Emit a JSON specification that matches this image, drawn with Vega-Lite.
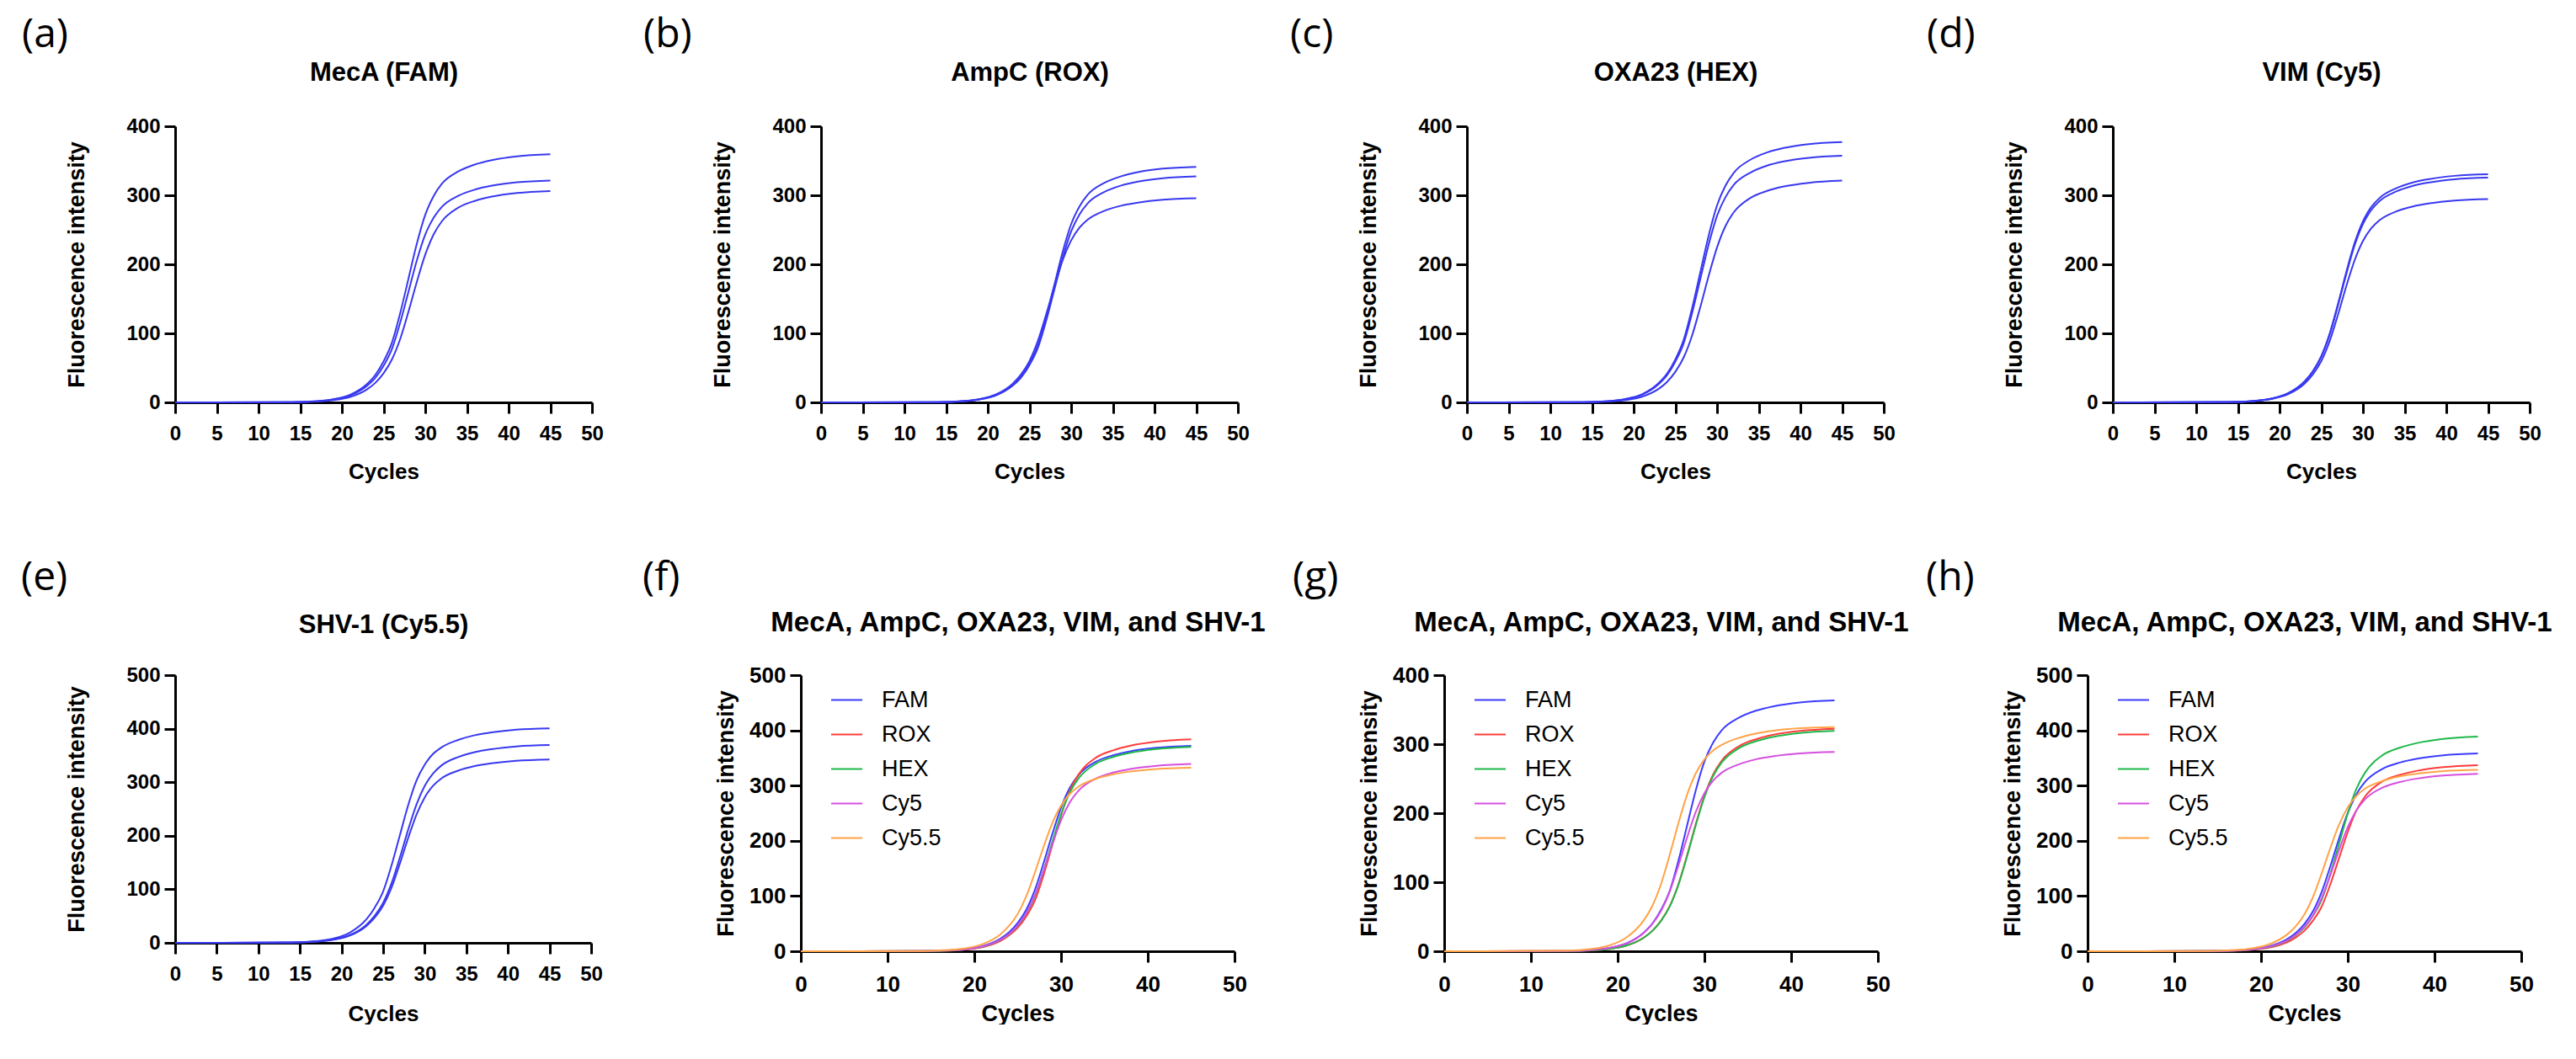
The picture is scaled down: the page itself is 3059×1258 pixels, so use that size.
{
"$schema": "https://vega.github.io/schema/vega-lite/v6.json",
"background": "white",
"padding": {"left": 25, "top": 18, "right": 0, "bottom": 0},
"datasets": {"pcr": [
{"p":"a","s":"1","c":0,"v":0},{"p":"a","s":"1","c":14,"v":0.4},{"p":"a","s":"1","c":17,"v":1.8},{"p":"a","s":"1","c":19,"v":4.7},{"p":"a","s":"1","c":21,"v":11.2},{"p":"a","s":"1","c":23,"v":26.6},{"p":"a","s":"1","c":24,"v":39.6},{"p":"a","s":"1","c":25,"v":59.4},{"p":"a","s":"1","c":26,"v":86.4},{"p":"a","s":"1","c":27,"v":129.6},{"p":"a","s":"1","c":28,"v":180},{"p":"a","s":"1","c":29,"v":230.4},{"p":"a","s":"1","c":30,"v":271.8},{"p":"a","s":"1","c":31,"v":298.8},{"p":"a","s":"1","c":32,"v":316.8},{"p":"a","s":"1","c":34,"v":334.8},{"p":"a","s":"1","c":36,"v":344.9},{"p":"a","s":"1","c":38,"v":351},{"p":"a","s":"1","c":41,"v":356.4},{"p":"a","s":"1","c":45,"v":359.3},
{"p":"a","s":"2","c":0,"v":0},{"p":"a","s":"2","c":14,"v":0.3},{"p":"a","s":"2","c":17,"v":1.6},{"p":"a","s":"2","c":19,"v":4.2},{"p":"a","s":"2","c":21,"v":10},{"p":"a","s":"2","c":23,"v":23.8},{"p":"a","s":"2","c":24,"v":35.4},{"p":"a","s":"2","c":25,"v":53.1},{"p":"a","s":"2","c":26,"v":77.3},{"p":"a","s":"2","c":27,"v":115.9},{"p":"a","s":"2","c":28,"v":161},{"p":"a","s":"2","c":29,"v":206.1},{"p":"a","s":"2","c":30,"v":243.1},{"p":"a","s":"2","c":31,"v":267.3},{"p":"a","s":"2","c":32,"v":283.4},{"p":"a","s":"2","c":34,"v":299.5},{"p":"a","s":"2","c":36,"v":308.5},{"p":"a","s":"2","c":38,"v":314},{"p":"a","s":"2","c":41,"v":318.8},{"p":"a","s":"2","c":45,"v":321.4},
{"p":"a","s":"3","c":0,"v":0},{"p":"a","s":"3","c":14,"v":0.2},{"p":"a","s":"3","c":17,"v":1.2},{"p":"a","s":"3","c":19,"v":3.2},{"p":"a","s":"3","c":21,"v":7.8},{"p":"a","s":"3","c":23,"v":18.7},{"p":"a","s":"3","c":24,"v":28.2},{"p":"a","s":"3","c":25,"v":42.2},{"p":"a","s":"3","c":26,"v":62.2},{"p":"a","s":"3","c":27,"v":92.1},{"p":"a","s":"3","c":28,"v":132},{"p":"a","s":"3","c":29,"v":175},{"p":"a","s":"3","c":30,"v":214.1},{"p":"a","s":"3","c":31,"v":243.3},{"p":"a","s":"3","c":32,"v":262.5},{"p":"a","s":"3","c":34,"v":282.4},{"p":"a","s":"3","c":36,"v":292.1},{"p":"a","s":"3","c":38,"v":298.1},{"p":"a","s":"3","c":41,"v":303.3},{"p":"a","s":"3","c":45,"v":306.2},
{"p":"b","s":"1","c":0,"v":0},{"p":"b","s":"1","c":14,"v":0.3},{"p":"b","s":"1","c":17,"v":1.7},{"p":"b","s":"1","c":19,"v":4.4},{"p":"b","s":"1","c":21,"v":10.6},{"p":"b","s":"1","c":23,"v":25.3},{"p":"b","s":"1","c":24,"v":37.6},{"p":"b","s":"1","c":25,"v":56.4},{"p":"b","s":"1","c":26,"v":82.1},{"p":"b","s":"1","c":27,"v":123.1},{"p":"b","s":"1","c":28,"v":171},{"p":"b","s":"1","c":29,"v":218.9},{"p":"b","s":"1","c":30,"v":258.2},{"p":"b","s":"1","c":31,"v":283.9},{"p":"b","s":"1","c":32,"v":301},{"p":"b","s":"1","c":34,"v":318.1},{"p":"b","s":"1","c":36,"v":327.6},{"p":"b","s":"1","c":38,"v":333.5},{"p":"b","s":"1","c":41,"v":338.6},{"p":"b","s":"1","c":45,"v":341.3},
{"p":"b","s":"2","c":0,"v":0},{"p":"b","s":"2","c":14,"v":0.3},{"p":"b","s":"2","c":17,"v":1.6},{"p":"b","s":"2","c":19,"v":4.3},{"p":"b","s":"2","c":21,"v":10.2},{"p":"b","s":"2","c":23,"v":24.3},{"p":"b","s":"2","c":24,"v":36.1},{"p":"b","s":"2","c":25,"v":54.1},{"p":"b","s":"2","c":26,"v":78.7},{"p":"b","s":"2","c":27,"v":118.1},{"p":"b","s":"2","c":28,"v":164},{"p":"b","s":"2","c":29,"v":209.9},{"p":"b","s":"2","c":30,"v":247.6},{"p":"b","s":"2","c":31,"v":272.2},{"p":"b","s":"2","c":32,"v":288.6},{"p":"b","s":"2","c":34,"v":305},{"p":"b","s":"2","c":36,"v":314.2},{"p":"b","s":"2","c":38,"v":319.8},{"p":"b","s":"2","c":41,"v":324.7},{"p":"b","s":"2","c":45,"v":327.3},
{"p":"b","s":"3","c":0,"v":0},{"p":"b","s":"3","c":14,"v":0.4},{"p":"b","s":"3","c":17,"v":1.9},{"p":"b","s":"3","c":19,"v":4.9},{"p":"b","s":"3","c":21,"v":11.7},{"p":"b","s":"3","c":23,"v":27.2},{"p":"b","s":"3","c":24,"v":40.7},{"p":"b","s":"3","c":25,"v":59.9},{"p":"b","s":"3","c":26,"v":88.8},{"p":"b","s":"3","c":27,"v":127.3},{"p":"b","s":"3","c":28,"v":168.7},{"p":"b","s":"3","c":29,"v":206.5},{"p":"b","s":"3","c":30,"v":234.6},{"p":"b","s":"3","c":31,"v":253.1},{"p":"b","s":"3","c":32,"v":264.9},{"p":"b","s":"3","c":34,"v":277.5},{"p":"b","s":"3","c":36,"v":284.9},{"p":"b","s":"3","c":38,"v":289.3},{"p":"b","s":"3","c":41,"v":293.5},{"p":"b","s":"3","c":45,"v":295.6},
{"p":"c","s":"1","c":0,"v":0},{"p":"c","s":"1","c":14,"v":0.4},{"p":"c","s":"1","c":17,"v":1.9},{"p":"c","s":"1","c":19,"v":4.9},{"p":"c","s":"1","c":21,"v":11.7},{"p":"c","s":"1","c":23,"v":28},{"p":"c","s":"1","c":24,"v":41.6},{"p":"c","s":"1","c":25,"v":62.4},{"p":"c","s":"1","c":26,"v":90.7},{"p":"c","s":"1","c":27,"v":136.1},{"p":"c","s":"1","c":28,"v":189},{"p":"c","s":"1","c":29,"v":241.9},{"p":"c","s":"1","c":30,"v":285.4},{"p":"c","s":"1","c":31,"v":313.7},{"p":"c","s":"1","c":32,"v":332.6},{"p":"c","s":"1","c":34,"v":351.5},{"p":"c","s":"1","c":36,"v":362.1},{"p":"c","s":"1","c":38,"v":368.6},{"p":"c","s":"1","c":41,"v":374.2},{"p":"c","s":"1","c":45,"v":377.2},
{"p":"c","s":"2","c":0,"v":0},{"p":"c","s":"2","c":14,"v":0.4},{"p":"c","s":"2","c":17,"v":1.8},{"p":"c","s":"2","c":19,"v":4.7},{"p":"c","s":"2","c":21,"v":11.1},{"p":"c","s":"2","c":23,"v":26.5},{"p":"c","s":"2","c":24,"v":39.4},{"p":"c","s":"2","c":25,"v":59.1},{"p":"c","s":"2","c":26,"v":85.9},{"p":"c","s":"2","c":27,"v":128.9},{"p":"c","s":"2","c":28,"v":179},{"p":"c","s":"2","c":29,"v":229.1},{"p":"c","s":"2","c":30,"v":270.3},{"p":"c","s":"2","c":31,"v":297.1},{"p":"c","s":"2","c":32,"v":315},{"p":"c","s":"2","c":34,"v":332.9},{"p":"c","s":"2","c":36,"v":343},{"p":"c","s":"2","c":38,"v":349.1},{"p":"c","s":"2","c":41,"v":354.4},{"p":"c","s":"2","c":45,"v":357.3},
{"p":"c","s":"3","c":0,"v":0},{"p":"c","s":"3","c":14,"v":0.3},{"p":"c","s":"3","c":17,"v":1.3},{"p":"c","s":"3","c":19,"v":3.4},{"p":"c","s":"3","c":21,"v":8.2},{"p":"c","s":"3","c":23,"v":19.6},{"p":"c","s":"3","c":24,"v":29.6},{"p":"c","s":"3","c":25,"v":44.3},{"p":"c","s":"3","c":26,"v":65.2},{"p":"c","s":"3","c":27,"v":96.6},{"p":"c","s":"3","c":28,"v":138.5},{"p":"c","s":"3","c":29,"v":183.5},{"p":"c","s":"3","c":30,"v":224.6},{"p":"c","s":"3","c":31,"v":255.2},{"p":"c","s":"3","c":32,"v":275.3},{"p":"c","s":"3","c":34,"v":296.2},{"p":"c","s":"3","c":36,"v":306.4},{"p":"c","s":"3","c":38,"v":312.7},{"p":"c","s":"3","c":41,"v":318.1},{"p":"c","s":"3","c":45,"v":321.2},
{"p":"d","s":"1","c":0,"v":0},{"p":"d","s":"1","c":14,"v":0.5},{"p":"d","s":"1","c":17,"v":2.2},{"p":"d","s":"1","c":19,"v":5.5},{"p":"d","s":"1","c":21,"v":13.1},{"p":"d","s":"1","c":23,"v":30.5},{"p":"d","s":"1","c":24,"v":45.5},{"p":"d","s":"1","c":25,"v":67},{"p":"d","s":"1","c":26,"v":99.3},{"p":"d","s":"1","c":27,"v":142.3},{"p":"d","s":"1","c":28,"v":188.7},{"p":"d","s":"1","c":29,"v":230.9},{"p":"d","s":"1","c":30,"v":262.3},{"p":"d","s":"1","c":31,"v":283},{"p":"d","s":"1","c":32,"v":296.2},{"p":"d","s":"1","c":34,"v":310.3},{"p":"d","s":"1","c":36,"v":318.6},{"p":"d","s":"1","c":38,"v":323.6},{"p":"d","s":"1","c":41,"v":328.2},{"p":"d","s":"1","c":45,"v":330.5},
{"p":"d","s":"2","c":0,"v":0},{"p":"d","s":"2","c":14,"v":0.5},{"p":"d","s":"2","c":17,"v":2.1},{"p":"d","s":"2","c":19,"v":5.4},{"p":"d","s":"2","c":21,"v":12.9},{"p":"d","s":"2","c":23,"v":30},{"p":"d","s":"2","c":24,"v":44.8},{"p":"d","s":"2","c":25,"v":66},{"p":"d","s":"2","c":26,"v":97.8},{"p":"d","s":"2","c":27,"v":140.2},{"p":"d","s":"2","c":28,"v":185.8},{"p":"d","s":"2","c":29,"v":227.4},{"p":"d","s":"2","c":30,"v":258.4},{"p":"d","s":"2","c":31,"v":278.7},{"p":"d","s":"2","c":32,"v":291.8},{"p":"d","s":"2","c":34,"v":305.6},{"p":"d","s":"2","c":36,"v":313.8},{"p":"d","s":"2","c":38,"v":318.7},{"p":"d","s":"2","c":41,"v":323.2},{"p":"d","s":"2","c":45,"v":325.5},
{"p":"d","s":"3","c":0,"v":0},{"p":"d","s":"3","c":14,"v":0.4},{"p":"d","s":"3","c":17,"v":1.9},{"p":"d","s":"3","c":19,"v":4.9},{"p":"d","s":"3","c":21,"v":11.7},{"p":"d","s":"3","c":23,"v":27.1},{"p":"d","s":"3","c":24,"v":40.6},{"p":"d","s":"3","c":25,"v":59.7},{"p":"d","s":"3","c":26,"v":88.5},{"p":"d","s":"3","c":27,"v":126.9},{"p":"d","s":"3","c":28,"v":168.2},{"p":"d","s":"3","c":29,"v":205.8},{"p":"d","s":"3","c":30,"v":233.8},{"p":"d","s":"3","c":31,"v":252.2},{"p":"d","s":"3","c":32,"v":264},{"p":"d","s":"3","c":34,"v":276.6},{"p":"d","s":"3","c":36,"v":283.9},{"p":"d","s":"3","c":38,"v":288.4},{"p":"d","s":"3","c":41,"v":292.5},{"p":"d","s":"3","c":45,"v":294.6},
{"p":"e","s":"1","c":0,"v":0},{"p":"e","s":"1","c":14,"v":0.8},{"p":"e","s":"1","c":17,"v":3.2},{"p":"e","s":"1","c":19,"v":8},{"p":"e","s":"1","c":21,"v":19.2},{"p":"e","s":"1","c":23,"v":44.1},{"p":"e","s":"1","c":24,"v":66.2},{"p":"e","s":"1","c":25,"v":96.2},{"p":"e","s":"1","c":26,"v":144.4},{"p":"e","s":"1","c":27,"v":200.5},{"p":"e","s":"1","c":28,"v":256.6},{"p":"e","s":"1","c":29,"v":302.8},{"p":"e","s":"1","c":30,"v":332.8},{"p":"e","s":"1","c":31,"v":352.9},{"p":"e","s":"1","c":32,"v":364.9},{"p":"e","s":"1","c":34,"v":378.9},{"p":"e","s":"1","c":36,"v":387.8},{"p":"e","s":"1","c":38,"v":393},{"p":"e","s":"1","c":41,"v":398.2},{"p":"e","s":"1","c":45,"v":400.6},
{"p":"e","s":"2","c":0,"v":0},{"p":"e","s":"2","c":14,"v":0.6},{"p":"e","s":"2","c":17,"v":2.4},{"p":"e","s":"2","c":19,"v":6.1},{"p":"e","s":"2","c":21,"v":14.6},{"p":"e","s":"2","c":23,"v":34},{"p":"e","s":"2","c":24,"v":50.9},{"p":"e","s":"2","c":25,"v":74.9},{"p":"e","s":"2","c":26,"v":111},{"p":"e","s":"2","c":27,"v":159.1},{"p":"e","s":"2","c":28,"v":210.9},{"p":"e","s":"2","c":29,"v":258.1},{"p":"e","s":"2","c":30,"v":293.2},{"p":"e","s":"2","c":31,"v":316.4},{"p":"e","s":"2","c":32,"v":331.2},{"p":"e","s":"2","c":34,"v":346.9},{"p":"e","s":"2","c":36,"v":356.1},{"p":"e","s":"2","c":38,"v":361.7},{"p":"e","s":"2","c":41,"v":366.9},{"p":"e","s":"2","c":45,"v":369.4},
{"p":"e","s":"3","c":0,"v":0},{"p":"e","s":"3","c":14,"v":0.5},{"p":"e","s":"3","c":17,"v":2.2},{"p":"e","s":"3","c":19,"v":5.7},{"p":"e","s":"3","c":21,"v":13.5},{"p":"e","s":"3","c":23,"v":31.6},{"p":"e","s":"3","c":24,"v":47.2},{"p":"e","s":"3","c":25,"v":69.5},{"p":"e","s":"3","c":26,"v":102.9},{"p":"e","s":"3","c":27,"v":147.5},{"p":"e","s":"3","c":28,"v":195.5},{"p":"e","s":"3","c":29,"v":239.2},{"p":"e","s":"3","c":30,"v":271.8},{"p":"e","s":"3","c":31,"v":293.3},{"p":"e","s":"3","c":32,"v":307},{"p":"e","s":"3","c":34,"v":321.6},{"p":"e","s":"3","c":36,"v":330.1},{"p":"e","s":"3","c":38,"v":335.3},{"p":"e","s":"3","c":41,"v":340.1},{"p":"e","s":"3","c":45,"v":342.5},
{"p":"f","s":"FAM","c":0,"v":0},{"p":"f","s":"FAM","c":14,"v":0.3},{"p":"f","s":"FAM","c":17,"v":1.5},{"p":"f","s":"FAM","c":19,"v":3.9},{"p":"f","s":"FAM","c":21,"v":9.5},{"p":"f","s":"FAM","c":23,"v":22.8},{"p":"f","s":"FAM","c":24,"v":34.3},{"p":"f","s":"FAM","c":25,"v":51.3},{"p":"f","s":"FAM","c":26,"v":75.5},{"p":"f","s":"FAM","c":27,"v":111.9},{"p":"f","s":"FAM","c":28,"v":160.4},{"p":"f","s":"FAM","c":29,"v":212.6},{"p":"f","s":"FAM","c":30,"v":260.2},{"p":"f","s":"FAM","c":31,"v":295.6},{"p":"f","s":"FAM","c":32,"v":318.9},{"p":"f","s":"FAM","c":34,"v":343.2},{"p":"f","s":"FAM","c":36,"v":354.9},{"p":"f","s":"FAM","c":38,"v":362.2},{"p":"f","s":"FAM","c":41,"v":368.5},{"p":"f","s":"FAM","c":45,"v":372.1},
{"p":"f","s":"ROX","c":0,"v":0},{"p":"f","s":"ROX","c":14,"v":0.2},{"p":"f","s":"ROX","c":17,"v":1.2},{"p":"f","s":"ROX","c":19,"v":3.1},{"p":"f","s":"ROX","c":21,"v":7.7},{"p":"f","s":"ROX","c":23,"v":18.5},{"p":"f","s":"ROX","c":24,"v":28.5},{"p":"f","s":"ROX","c":25,"v":42.4},{"p":"f","s":"ROX","c":26,"v":63.5},{"p":"f","s":"ROX","c":27,"v":92.4},{"p":"f","s":"ROX","c":28,"v":138.6},{"p":"f","s":"ROX","c":29,"v":192.5},{"p":"f","s":"ROX","c":30,"v":246.4},{"p":"f","s":"ROX","c":31,"v":290.7},{"p":"f","s":"ROX","c":32,"v":319.6},{"p":"f","s":"ROX","c":34,"v":350.4},{"p":"f","s":"ROX","c":36,"v":363.8},{"p":"f","s":"ROX","c":38,"v":372.3},{"p":"f","s":"ROX","c":41,"v":379.6},{"p":"f","s":"ROX","c":45,"v":383.8},
{"p":"f","s":"HEX","c":0,"v":0},{"p":"f","s":"HEX","c":14,"v":0.3},{"p":"f","s":"HEX","c":17,"v":1.3},{"p":"f","s":"HEX","c":19,"v":3.5},{"p":"f","s":"HEX","c":21,"v":8.5},{"p":"f","s":"HEX","c":23,"v":20.2},{"p":"f","s":"HEX","c":24,"v":30.8},{"p":"f","s":"HEX","c":25,"v":45.9},{"p":"f","s":"HEX","c":26,"v":68.2},{"p":"f","s":"HEX","c":27,"v":100.2},{"p":"f","s":"HEX","c":28,"v":146.6},{"p":"f","s":"HEX","c":29,"v":198.5},{"p":"f","s":"HEX","c":30,"v":248.1},{"p":"f","s":"HEX","c":31,"v":287.1},{"p":"f","s":"HEX","c":32,"v":312.6},{"p":"f","s":"HEX","c":34,"v":339.5},{"p":"f","s":"HEX","c":36,"v":351.8},{"p":"f","s":"HEX","c":38,"v":359.5},{"p":"f","s":"HEX","c":41,"v":366.2},{"p":"f","s":"HEX","c":45,"v":370},
{"p":"f","s":"Cy5","c":0,"v":0},{"p":"f","s":"Cy5","c":14,"v":0.3},{"p":"f","s":"Cy5","c":17,"v":1.4},{"p":"f","s":"Cy5","c":19,"v":3.6},{"p":"f","s":"Cy5","c":21,"v":8.7},{"p":"f","s":"Cy5","c":23,"v":20.7},{"p":"f","s":"Cy5","c":24,"v":31.3},{"p":"f","s":"Cy5","c":25,"v":46.8},{"p":"f","s":"Cy5","c":26,"v":68.9},{"p":"f","s":"Cy5","c":27,"v":102},{"p":"f","s":"Cy5","c":28,"v":146.2},{"p":"f","s":"Cy5","c":29,"v":193.8},{"p":"f","s":"Cy5","c":30,"v":237.2},{"p":"f","s":"Cy5","c":31,"v":269.5},{"p":"f","s":"Cy5","c":32,"v":290.7},{"p":"f","s":"Cy5","c":34,"v":312.8},{"p":"f","s":"Cy5","c":36,"v":323.5},{"p":"f","s":"Cy5","c":38,"v":330.1},{"p":"f","s":"Cy5","c":41,"v":335.9},{"p":"f","s":"Cy5","c":45,"v":339.2},
{"p":"f","s":"Cy5.5","c":0,"v":0},{"p":"f","s":"Cy5.5","c":14,"v":0.5},{"p":"f","s":"Cy5.5","c":17,"v":2.2},{"p":"f","s":"Cy5.5","c":19,"v":5.5},{"p":"f","s":"Cy5.5","c":21,"v":13.2},{"p":"f","s":"Cy5.5","c":23,"v":30.6},{"p":"f","s":"Cy5.5","c":24,"v":45.8},{"p":"f","s":"Cy5.5","c":25,"v":67.4},{"p":"f","s":"Cy5.5","c":26,"v":99.9},{"p":"f","s":"Cy5.5","c":27,"v":143.2},{"p":"f","s":"Cy5.5","c":28,"v":189.8},{"p":"f","s":"Cy5.5","c":29,"v":232.3},{"p":"f","s":"Cy5.5","c":30,"v":263.9},{"p":"f","s":"Cy5.5","c":31,"v":284.7},{"p":"f","s":"Cy5.5","c":32,"v":298},{"p":"f","s":"Cy5.5","c":34,"v":312.2},{"p":"f","s":"Cy5.5","c":36,"v":320.5},{"p":"f","s":"Cy5.5","c":38,"v":325.5},{"p":"f","s":"Cy5.5","c":41,"v":330.2},{"p":"f","s":"Cy5.5","c":45,"v":332.5},
{"p":"g","s":"FAM","c":0,"v":0},{"p":"g","s":"FAM","c":14,"v":0.4},{"p":"g","s":"FAM","c":17,"v":1.8},{"p":"g","s":"FAM","c":19,"v":4.7},{"p":"g","s":"FAM","c":21,"v":11.3},{"p":"g","s":"FAM","c":23,"v":26.9},{"p":"g","s":"FAM","c":24,"v":40},{"p":"g","s":"FAM","c":25,"v":60.1},{"p":"g","s":"FAM","c":26,"v":87.4},{"p":"g","s":"FAM","c":27,"v":131},{"p":"g","s":"FAM","c":28,"v":182},{"p":"g","s":"FAM","c":29,"v":233},{"p":"g","s":"FAM","c":30,"v":274.8},{"p":"g","s":"FAM","c":31,"v":302.1},{"p":"g","s":"FAM","c":32,"v":320.3},{"p":"g","s":"FAM","c":34,"v":338.5},{"p":"g","s":"FAM","c":36,"v":348.7},{"p":"g","s":"FAM","c":38,"v":354.9},{"p":"g","s":"FAM","c":41,"v":360.4},{"p":"g","s":"FAM","c":45,"v":363.3},
{"p":"g","s":"ROX","c":0,"v":0},{"p":"g","s":"ROX","c":14,"v":0.3},{"p":"g","s":"ROX","c":17,"v":1.3},{"p":"g","s":"ROX","c":19,"v":3.4},{"p":"g","s":"ROX","c":21,"v":8.2},{"p":"g","s":"ROX","c":23,"v":19.7},{"p":"g","s":"ROX","c":24,"v":29.7},{"p":"g","s":"ROX","c":25,"v":44.4},{"p":"g","s":"ROX","c":26,"v":65.4},{"p":"g","s":"ROX","c":27,"v":96.9},{"p":"g","s":"ROX","c":28,"v":138.9},{"p":"g","s":"ROX","c":29,"v":184.1},{"p":"g","s":"ROX","c":30,"v":225.3},{"p":"g","s":"ROX","c":31,"v":256},{"p":"g","s":"ROX","c":32,"v":276.2},{"p":"g","s":"ROX","c":34,"v":297.2},{"p":"g","s":"ROX","c":36,"v":307.3},{"p":"g","s":"ROX","c":38,"v":313.6},{"p":"g","s":"ROX","c":41,"v":319.1},{"p":"g","s":"ROX","c":45,"v":322.2},
{"p":"g","s":"HEX","c":0,"v":0},{"p":"g","s":"HEX","c":14,"v":0.3},{"p":"g","s":"HEX","c":17,"v":1.3},{"p":"g","s":"HEX","c":19,"v":3.4},{"p":"g","s":"HEX","c":21,"v":8.2},{"p":"g","s":"HEX","c":23,"v":19.5},{"p":"g","s":"HEX","c":24,"v":29.4},{"p":"g","s":"HEX","c":25,"v":44},{"p":"g","s":"HEX","c":26,"v":64.8},{"p":"g","s":"HEX","c":27,"v":96},{"p":"g","s":"HEX","c":28,"v":137.6},{"p":"g","s":"HEX","c":29,"v":182.4},{"p":"g","s":"HEX","c":30,"v":223.2},{"p":"g","s":"HEX","c":31,"v":253.6},{"p":"g","s":"HEX","c":32,"v":273.6},{"p":"g","s":"HEX","c":34,"v":294.4},{"p":"g","s":"HEX","c":36,"v":304.5},{"p":"g","s":"HEX","c":38,"v":310.7},{"p":"g","s":"HEX","c":41,"v":316.2},{"p":"g","s":"HEX","c":45,"v":319.2},
{"p":"g","s":"Cy5","c":0,"v":0},{"p":"g","s":"Cy5","c":14,"v":0.4},{"p":"g","s":"Cy5","c":17,"v":1.9},{"p":"g","s":"Cy5","c":19,"v":4.8},{"p":"g","s":"Cy5","c":21,"v":11.4},{"p":"g","s":"Cy5","c":23,"v":26.6},{"p":"g","s":"Cy5","c":24,"v":39.7},{"p":"g","s":"Cy5","c":25,"v":58.5},{"p":"g","s":"Cy5","c":26,"v":86.7},{"p":"g","s":"Cy5","c":27,"v":124.3},{"p":"g","s":"Cy5","c":28,"v":164.7},{"p":"g","s":"Cy5","c":29,"v":201.6},{"p":"g","s":"Cy5","c":30,"v":229},{"p":"g","s":"Cy5","c":31,"v":247.1},{"p":"g","s":"Cy5","c":32,"v":258.7},{"p":"g","s":"Cy5","c":34,"v":270.9},{"p":"g","s":"Cy5","c":36,"v":278.2},{"p":"g","s":"Cy5","c":38,"v":282.5},{"p":"g","s":"Cy5","c":41,"v":286.5},{"p":"g","s":"Cy5","c":45,"v":288.6},
{"p":"g","s":"Cy5.5","c":0,"v":0},{"p":"g","s":"Cy5.5","c":14,"v":0.8},{"p":"g","s":"Cy5.5","c":17,"v":3.4},{"p":"g","s":"Cy5.5","c":19,"v":8.3},{"p":"g","s":"Cy5.5","c":21,"v":19.8},{"p":"g","s":"Cy5.5","c":23,"v":44.7},{"p":"g","s":"Cy5.5","c":24,"v":65.8},{"p":"g","s":"Cy5.5","c":25,"v":97.5},{"p":"g","s":"Cy5.5","c":26,"v":139.8},{"p":"g","s":"Cy5.5","c":27,"v":185.3},{"p":"g","s":"Cy5.5","c":28,"v":226.7},{"p":"g","s":"Cy5.5","c":29,"v":257.6},{"p":"g","s":"Cy5.5","c":30,"v":277.9},{"p":"g","s":"Cy5.5","c":31,"v":290.9},{"p":"g","s":"Cy5.5","c":32,"v":299},{"p":"g","s":"Cy5.5","c":34,"v":309.2},{"p":"g","s":"Cy5.5","c":36,"v":315.6},{"p":"g","s":"Cy5.5","c":38,"v":319.5},{"p":"g","s":"Cy5.5","c":41,"v":323.1},{"p":"g","s":"Cy5.5","c":45,"v":324.8},
{"p":"h","s":"FAM","c":0,"v":0},{"p":"h","s":"FAM","c":14,"v":0.3},{"p":"h","s":"FAM","c":17,"v":1.4},{"p":"h","s":"FAM","c":19,"v":3.8},{"p":"h","s":"FAM","c":21,"v":9.2},{"p":"h","s":"FAM","c":23,"v":21.9},{"p":"h","s":"FAM","c":24,"v":33},{"p":"h","s":"FAM","c":25,"v":49.4},{"p":"h","s":"FAM","c":26,"v":72.7},{"p":"h","s":"FAM","c":27,"v":107.7},{"p":"h","s":"FAM","c":28,"v":154.4},{"p":"h","s":"FAM","c":29,"v":204.6},{"p":"h","s":"FAM","c":30,"v":250.4},{"p":"h","s":"FAM","c":31,"v":284.5},{"p":"h","s":"FAM","c":32,"v":306.9},{"p":"h","s":"FAM","c":34,"v":330.3},{"p":"h","s":"FAM","c":36,"v":341.6},{"p":"h","s":"FAM","c":38,"v":348.6},{"p":"h","s":"FAM","c":41,"v":354.7},{"p":"h","s":"FAM","c":45,"v":358.1},
{"p":"h","s":"ROX","c":0,"v":0},{"p":"h","s":"ROX","c":14,"v":0.2},{"p":"h","s":"ROX","c":17,"v":1},{"p":"h","s":"ROX","c":19,"v":2.7},{"p":"h","s":"ROX","c":21,"v":6.8},{"p":"h","s":"ROX","c":23,"v":16.2},{"p":"h","s":"ROX","c":24,"v":25},{"p":"h","s":"ROX","c":25,"v":37.2},{"p":"h","s":"ROX","c":26,"v":55.8},{"p":"h","s":"ROX","c":27,"v":81.1},{"p":"h","s":"ROX","c":28,"v":121.7},{"p":"h","s":"ROX","c":29,"v":169},{"p":"h","s":"ROX","c":30,"v":216.3},{"p":"h","s":"ROX","c":31,"v":255.2},{"p":"h","s":"ROX","c":32,"v":280.5},{"p":"h","s":"ROX","c":34,"v":307.6},{"p":"h","s":"ROX","c":36,"v":319.4},{"p":"h","s":"ROX","c":38,"v":326.8},{"p":"h","s":"ROX","c":41,"v":333.3},{"p":"h","s":"ROX","c":45,"v":337},
{"p":"h","s":"HEX","c":0,"v":0},{"p":"h","s":"HEX","c":14,"v":0.2},{"p":"h","s":"HEX","c":17,"v":1.2},{"p":"h","s":"HEX","c":19,"v":3.1},{"p":"h","s":"HEX","c":21,"v":7.8},{"p":"h","s":"HEX","c":23,"v":18.7},{"p":"h","s":"HEX","c":24,"v":28.9},{"p":"h","s":"HEX","c":25,"v":42.9},{"p":"h","s":"HEX","c":26,"v":64.4},{"p":"h","s":"HEX","c":27,"v":93.6},{"p":"h","s":"HEX","c":28,"v":140.4},{"p":"h","s":"HEX","c":29,"v":195},{"p":"h","s":"HEX","c":30,"v":249.6},{"p":"h","s":"HEX","c":31,"v":294.5},{"p":"h","s":"HEX","c":32,"v":323.7},{"p":"h","s":"HEX","c":34,"v":354.9},{"p":"h","s":"HEX","c":36,"v":368.6},{"p":"h","s":"HEX","c":38,"v":377.1},{"p":"h","s":"HEX","c":41,"v":384.5},{"p":"h","s":"HEX","c":45,"v":388.8},
{"p":"h","s":"Cy5","c":0,"v":0},{"p":"h","s":"Cy5","c":14,"v":0.3},{"p":"h","s":"Cy5","c":17,"v":1.3},{"p":"h","s":"Cy5","c":19,"v":3.4},{"p":"h","s":"Cy5","c":21,"v":8.2},{"p":"h","s":"Cy5","c":23,"v":19.6},{"p":"h","s":"Cy5","c":24,"v":29.6},{"p":"h","s":"Cy5","c":25,"v":44.3},{"p":"h","s":"Cy5","c":26,"v":65.2},{"p":"h","s":"Cy5","c":27,"v":96.6},{"p":"h","s":"Cy5","c":28,"v":138.5},{"p":"h","s":"Cy5","c":29,"v":183.5},{"p":"h","s":"Cy5","c":30,"v":224.6},{"p":"h","s":"Cy5","c":31,"v":255.2},{"p":"h","s":"Cy5","c":32,"v":275.3},{"p":"h","s":"Cy5","c":34,"v":296.2},{"p":"h","s":"Cy5","c":36,"v":306.4},{"p":"h","s":"Cy5","c":38,"v":312.7},{"p":"h","s":"Cy5","c":41,"v":318.1},{"p":"h","s":"Cy5","c":45,"v":321.2},
{"p":"h","s":"Cy5.5","c":0,"v":0},{"p":"h","s":"Cy5.5","c":14,"v":0.5},{"p":"h","s":"Cy5.5","c":17,"v":2.1},{"p":"h","s":"Cy5.5","c":19,"v":5.4},{"p":"h","s":"Cy5.5","c":21,"v":13},{"p":"h","s":"Cy5.5","c":23,"v":30.3},{"p":"h","s":"Cy5.5","c":24,"v":45.2},{"p":"h","s":"Cy5.5","c":25,"v":66.6},{"p":"h","s":"Cy5.5","c":26,"v":98.7},{"p":"h","s":"Cy5.5","c":27,"v":141.5},{"p":"h","s":"Cy5.5","c":28,"v":187.5},{"p":"h","s":"Cy5.5","c":29,"v":229.5},{"p":"h","s":"Cy5.5","c":30,"v":260.7},{"p":"h","s":"Cy5.5","c":31,"v":281.3},{"p":"h","s":"Cy5.5","c":32,"v":294.5},{"p":"h","s":"Cy5.5","c":34,"v":308.4},{"p":"h","s":"Cy5.5","c":36,"v":316.7},{"p":"h","s":"Cy5.5","c":38,"v":321.6},{"p":"h","s":"Cy5.5","c":41,"v":326.2},{"p":"h","s":"Cy5.5","c":45,"v":328.5}
]},
"data": {"name": "pcr"},
"config": {
  "view": {"stroke": null},
  "axis": {"domainColor": "#000", "domainWidth": 3, "tickColor": "#000", "tickWidth": 3, "tickSize": 13, "grid": false, "labelFont": "Liberation Sans", "labelFontWeight": "bold", "labelColor": "#000", "titleFont": "Liberation Sans", "titleColor": "#000", "titleFontWeight": "bold", "labelFlush": false, "labelOverlap": false},
  "axisX": {"labelPadding": 12},
  "axisY": {"labelPadding": 5},
  "title": {"font": "Open Sans", "fontSize": 48, "fontWeight": "normal", "color": "#000", "anchor": "start", "frame": "group", "baseline": "bottom", "offset": 4},
  "line": {"interpolate": "monotone", "strokeWidth": 2},
  "legend": {"orient": "none", "legendX": 35, "legendY": 10, "title": null, "symbolType": "stroke", "symbolSize": 1369, "symbolStrokeWidth": 3, "labelFont": "Liberation Sans", "labelFontSize": 27, "labelFontWeight": "normal", "labelColor": "#000", "labelOffset": 22, "rowPadding": 8, "padding": 0}
},
"spacing": 652,
"bounds": "flush",
"resolve": {"scale": {"color": "independent"}},
"vconcat": [
{"hconcat": [
 {"width": 495, "height": 328, "title": {"text": "(a)", "dx": -182},
  "transform": [{"filter": {"field": "p", "equal": "a"}}],
  "encoding": {"y": {"field": "v", "type": "quantitative", "scale": {"domain": [0, 400], "nice": false}, "axis": {"values": [0,100,200,300,400], "title": "Fluorescence intensity", "labelFontSize": 24, "titleFontSize": 27, "titlePadding": 44}}},
  "layer": [
   {"mark": {"type": "line", "color": "#3838f0"},
    "encoding": {
     "x": {"field": "c", "type": "quantitative", "scale": {"domain": [0, 50], "nice": false}, "axis": {"values": [0,5,10,15,20,25,30,35,40,45,50], "title": "Cycles", "labelFontSize": 24, "titleFontSize": 26, "titlePadding": 20}},
     "detail": {"field": "s"}}},
   {"mark": {"type": "line", "opacity": 0},
    "encoding": {
     "x": {"field": "c", "type": "quantitative", "scale": {"domain": [0, 50], "nice": false}, "axis": {"orient": "top", "title": "MecA (FAM)", "domain": false, "ticks": false, "labels": false, "titleFontSize": 31, "titlePadding": 48}},
     "detail": {"field": "s"}}}
  ],
  "resolve": {"axis": {"x": "independent"}}},
 {"width": 495, "height": 328, "title": {"text": "(b)", "dx": -211},
  "transform": [{"filter": {"field": "p", "equal": "b"}}],
  "encoding": {"y": {"field": "v", "type": "quantitative", "scale": {"domain": [0, 400], "nice": false}, "axis": {"values": [0,100,200,300,400], "title": "Fluorescence intensity", "labelFontSize": 24, "titleFontSize": 27, "titlePadding": 44}}},
  "layer": [
   {"mark": {"type": "line", "color": "#3838f0"},
    "encoding": {
     "x": {"field": "c", "type": "quantitative", "scale": {"domain": [0, 50], "nice": false}, "axis": {"values": [0,5,10,15,20,25,30,35,40,45,50], "title": "Cycles", "labelFontSize": 24, "titleFontSize": 26, "titlePadding": 20}},
     "detail": {"field": "s"}}},
   {"mark": {"type": "line", "opacity": 0},
    "encoding": {
     "x": {"field": "c", "type": "quantitative", "scale": {"domain": [0, 50], "nice": false}, "axis": {"orient": "top", "title": "AmpC (ROX)", "domain": false, "ticks": false, "labels": false, "titleFontSize": 31, "titlePadding": 48}},
     "detail": {"field": "s"}}}
  ],
  "resolve": {"axis": {"x": "independent"}}},
 {"width": 495, "height": 328, "title": {"text": "(c)", "dx": -210},
  "transform": [{"filter": {"field": "p", "equal": "c"}}],
  "encoding": {"y": {"field": "v", "type": "quantitative", "scale": {"domain": [0, 400], "nice": false}, "axis": {"values": [0,100,200,300,400], "title": "Fluorescence intensity", "labelFontSize": 24, "titleFontSize": 27, "titlePadding": 44}}},
  "layer": [
   {"mark": {"type": "line", "color": "#3838f0"},
    "encoding": {
     "x": {"field": "c", "type": "quantitative", "scale": {"domain": [0, 50], "nice": false}, "axis": {"values": [0,5,10,15,20,25,30,35,40,45,50], "title": "Cycles", "labelFontSize": 24, "titleFontSize": 26, "titlePadding": 20}},
     "detail": {"field": "s"}}},
   {"mark": {"type": "line", "opacity": 0},
    "encoding": {
     "x": {"field": "c", "type": "quantitative", "scale": {"domain": [0, 50], "nice": false}, "axis": {"orient": "top", "title": "OXA23 (HEX)", "domain": false, "ticks": false, "labels": false, "titleFontSize": 31, "titlePadding": 48}},
     "detail": {"field": "s"}}}
  ],
  "resolve": {"axis": {"x": "independent"}}},
 {"width": 495, "height": 328, "title": {"text": "(d)", "dx": -221},
  "transform": [{"filter": {"field": "p", "equal": "d"}}],
  "encoding": {"y": {"field": "v", "type": "quantitative", "scale": {"domain": [0, 400], "nice": false}, "axis": {"values": [0,100,200,300,400], "title": "Fluorescence intensity", "labelFontSize": 24, "titleFontSize": 27, "titlePadding": 44}}},
  "layer": [
   {"mark": {"type": "line", "color": "#3838f0"},
    "encoding": {
     "x": {"field": "c", "type": "quantitative", "scale": {"domain": [0, 50], "nice": false}, "axis": {"values": [0,5,10,15,20,25,30,35,40,45,50], "title": "Cycles", "labelFontSize": 24, "titleFontSize": 26, "titlePadding": 20}},
     "detail": {"field": "s"}}},
   {"mark": {"type": "line", "opacity": 0},
    "encoding": {
     "x": {"field": "c", "type": "quantitative", "scale": {"domain": [0, 50], "nice": false}, "axis": {"orient": "top", "title": "VIM (Cy5)", "domain": false, "ticks": false, "labels": false, "titleFontSize": 31, "titlePadding": 48}},
     "detail": {"field": "s"}}}
  ],
  "resolve": {"axis": {"x": "independent"}}}
], "spacing": 272, "bounds": "flush"},
{"hconcat": [
 {"width": 494, "height": 318, "title": {"text": "(e)", "dx": -183, "offset": 15},
  "transform": [{"filter": {"field": "p", "equal": "e"}}],
  "encoding": {"y": {"field": "v", "type": "quantitative", "scale": {"domain": [0, 500], "nice": false}, "axis": {"values": [0,100,200,300,400,500], "title": "Fluorescence intensity", "labelFontSize": 24, "titleFontSize": 27, "titlePadding": 44}}},
  "layer": [
   {"mark": {"type": "line", "color": "#3838f0"},
    "encoding": {
     "x": {"field": "c", "type": "quantitative", "scale": {"domain": [0, 50], "nice": false}, "axis": {"values": [0,5,10,15,20,25,30,35,40,45,50], "title": "Cycles", "labelFontSize": 24, "titleFontSize": 26, "titlePadding": 22}},
     "detail": {"field": "s"}}},
   {"mark": {"type": "line", "opacity": 0},
    "encoding": {
     "x": {"field": "c", "type": "quantitative", "scale": {"domain": [0, 50], "nice": false}, "axis": {"orient": "top", "title": "SHV-1 (Cy5.5)", "domain": false, "ticks": false, "labels": false, "titleFontSize": 31, "titlePadding": 44}},
     "detail": {"field": "s"}}}
  ],
  "resolve": {"axis": {"x": "independent"}}},
 {"width": 515, "height": 328, "title": {"text": "(f)", "dx": -188, "offset": 12},
  "transform": [{"filter": {"field": "p", "equal": "f"}}],
  "encoding": {"y": {"field": "v", "type": "quantitative", "scale": {"domain": [0, 500], "nice": false}, "axis": {"values": [0,100,200,300,400,500], "title": "Fluorescence intensity", "labelFontSize": 26, "titleFontSize": 27, "titlePadding": 13}}},
  "layer": [
   {"mark": {"type": "line"},
    "encoding": {
     "x": {"field": "c", "type": "quantitative", "scale": {"domain": [0, 50], "nice": false}, "axis": {"values": [0,10,20,30,40,50], "title": "Cycles", "labelFontSize": 26, "titleFontSize": 27, "titlePadding": 9, "labelPadding": 13}},
     "color": {"field": "s", "type": "nominal", "scale": {"domain": ["FAM","ROX","HEX","Cy5","Cy5.5"], "range": ["#3c3cff","#ff3c3c","#1fb84a","#d54fe0","#ffa347"]}}}},
   {"mark": {"type": "line", "opacity": 0},
    "encoding": {
     "x": {"field": "c", "type": "quantitative", "scale": {"domain": [0, 50], "nice": false}, "axis": {"orient": "top", "title": "MecA, AmpC, OXA23, VIM, and SHV-1", "domain": false, "ticks": false, "labels": false, "titleFontSize": 33, "titlePadding": 46}},
     "detail": {"field": "s"}}}
  ],
  "resolve": {"axis": {"x": "independent"}}},
 {"width": 515, "height": 328, "title": {"text": "(g)", "dx": -180, "offset": 12},
  "transform": [{"filter": {"field": "p", "equal": "g"}}],
  "encoding": {"y": {"field": "v", "type": "quantitative", "scale": {"domain": [0, 400], "nice": false}, "axis": {"values": [0,100,200,300,400], "title": "Fluorescence intensity", "labelFontSize": 26, "titleFontSize": 27, "titlePadding": 13}}},
  "layer": [
   {"mark": {"type": "line"},
    "encoding": {
     "x": {"field": "c", "type": "quantitative", "scale": {"domain": [0, 50], "nice": false}, "axis": {"values": [0,10,20,30,40,50], "title": "Cycles", "labelFontSize": 26, "titleFontSize": 27, "titlePadding": 9, "labelPadding": 13}},
     "color": {"field": "s", "type": "nominal", "scale": {"domain": ["FAM","ROX","HEX","Cy5","Cy5.5"], "range": ["#3c3cff","#ff3c3c","#1fb84a","#d54fe0","#ffa347"]}}}},
   {"mark": {"type": "line", "opacity": 0},
    "encoding": {
     "x": {"field": "c", "type": "quantitative", "scale": {"domain": [0, 50], "nice": false}, "axis": {"orient": "top", "title": "MecA, AmpC, OXA23, VIM, and SHV-1", "domain": false, "ticks": false, "labels": false, "titleFontSize": 33, "titlePadding": 46}},
     "detail": {"field": "s"}}}
  ],
  "resolve": {"axis": {"x": "independent"}}},
 {"width": 515, "height": 328, "title": {"text": "(h)", "dx": -192, "offset": 12},
  "transform": [{"filter": {"field": "p", "equal": "h"}}],
  "encoding": {"y": {"field": "v", "type": "quantitative", "scale": {"domain": [0, 500], "nice": false}, "axis": {"values": [0,100,200,300,400,500], "title": "Fluorescence intensity", "labelFontSize": 26, "titleFontSize": 27, "titlePadding": 13}}},
  "layer": [
   {"mark": {"type": "line"},
    "encoding": {
     "x": {"field": "c", "type": "quantitative", "scale": {"domain": [0, 50], "nice": false}, "axis": {"values": [0,10,20,30,40,50], "title": "Cycles", "labelFontSize": 26, "titleFontSize": 27, "titlePadding": 9, "labelPadding": 13}},
     "color": {"field": "s", "type": "nominal", "scale": {"domain": ["FAM","ROX","HEX","Cy5","Cy5.5"], "range": ["#3c3cff","#ff3c3c","#1fb84a","#d54fe0","#ffa347"]}}}},
   {"mark": {"type": "line", "opacity": 0},
    "encoding": {
     "x": {"field": "c", "type": "quantitative", "scale": {"domain": [0, 50], "nice": false}, "axis": {"orient": "top", "title": "MecA, AmpC, OXA23, VIM, and SHV-1", "domain": false, "ticks": false, "labels": false, "titleFontSize": 33, "titlePadding": 46}},
     "detail": {"field": "s"}}}
  ],
  "resolve": {"axis": {"x": "independent"}}}
], "spacing": 249, "bounds": "flush", "resolve": {"scale": {"color": "independent"}}}
]
}
